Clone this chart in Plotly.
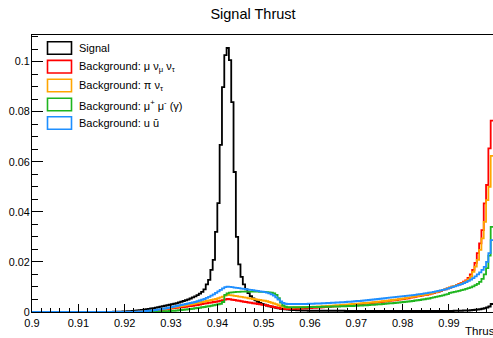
import numpy as np
import plotly.graph_objects as go

# Histogram: 0.9 .. 0.9995 in bins of 0.0005 (visible part)
x_start = 0.9
bin_width = 0.0005

signal = [
    0, 0, 0, 0, 0, 0, 0, 0, 0, 0,
    0, 0, 0, 0, 0, 0, 0, 0, 0, 0,
    0, 0, 0, 0, 0, 0, 0, 0, 0, 0,
    0, 0, 0, 0, 0, 0.0001, 0.0001, 0.0001, 0.0001, 0.0002,
    0.0002, 0.0003, 0.0003, 0.0004, 0.0005, 0.0006, 0.0007, 0.0008, 0.0009, 0.0011,
    0.0012, 0.0014, 0.0015, 0.0017, 0.0019, 0.0021, 0.0023, 0.0025, 0.0027, 0.0029,
    0.0031, 0.0033, 0.0035, 0.0038, 0.0041, 0.0044, 0.0047, 0.0050, 0.0054, 0.0058,
    0.0062, 0.0067, 0.0073, 0.0080, 0.0090, 0.0110, 0.0128, 0.0168, 0.0208, 0.0320,
    0.0435, 0.0667, 0.0898, 0.1026, 0.1054, 0.1006, 0.0838, 0.0559, 0.0300, 0.0190,
    0.0140, 0.0110, 0.0090, 0.0075, 0.0063, 0.0054, 0.0047, 0.0041, 0.0036, 0.0032,
    0.0029, 0.0026, 0.0023, 0.0021, 0.0019, 0.0017, 0.0015, 0.0013, 0.0012, 0.0011,
    0.0010, 0.0009, 0.0008, 0.0008, 0.0007, 0.0007, 0.0006, 0.0006, 0.0006, 0.0005,
    0.0005, 0.0005, 0.0005, 0.0005, 0.0005, 0.0005, 0.0005, 0.0005, 0.0005, 0.0005,
    0.0005, 0.0005, 0.0005, 0.0005, 0.0005, 0.0004, 0.0004, 0.0004, 0.0004, 0.0004,
    0.0004, 0.0004, 0.0004, 0.0004, 0.0004, 0.0004, 0.0004, 0.0004, 0.0004, 0.0004,
    0.0004, 0.0004, 0.0004, 0.0004, 0.0004, 0.0004, 0.0004, 0.0004, 0.0004, 0.0004,
    0.0004, 0.0004, 0.0004, 0.0004, 0.0004, 0.0004, 0.0004, 0.0004, 0.0004, 0.0004,
    0.0004, 0.0004, 0.0004, 0.0004, 0.0004, 0.0004, 0.0004, 0.0004, 0.0004, 0.0004,
    0.0004, 0.0004, 0.0005, 0.0005, 0.0005, 0.0005, 0.0006, 0.0006, 0.0006, 0.0007,
    0.0008, 0.0009, 0.0010, 0.0011, 0.0013, 0.0015, 0.0018, 0.0022, 0.0032,
]

bkg_mununu = [
    0, 0, 0, 0, 0, 0, 0, 0, 0, 0,
    0, 0, 0, 0, 0, 0, 0, 0, 0, 0,
    0, 0, 0, 0, 0, 0, 0, 0, 0, 0,
    0, 0, 0, 0, 0, 0, 0, 0, 0, 0,
    0, 0, 0, 0, 0, 0, 0.0001, 0.0001, 0.0002, 0.0002,
    0.0003, 0.0004, 0.0005, 0.0006, 0.0007, 0.0008, 0.0009, 0.0010, 0.0012, 0.0013,
    0.0015, 0.0016, 0.0017, 0.0018, 0.0019, 0.0020, 0.0021, 0.0023, 0.0024, 0.0025,
    0.0027, 0.0028, 0.0030, 0.0032, 0.0034, 0.0035, 0.0037, 0.0038, 0.0040, 0.0041,
    0.0043, 0.0045, 0.0047, 0.0050, 0.0052, 0.0051, 0.0049, 0.0048, 0.0046, 0.0045,
    0.0043, 0.0041, 0.0040, 0.0038, 0.0037, 0.0035, 0.0034, 0.0032, 0.0031, 0.0029,
    0.0028, 0.0026, 0.0024, 0.0022, 0.0020, 0.0018, 0.0016, 0.0014, 0.0013, 0.0012,
    0.0012, 0.0012, 0.0013, 0.0013, 0.0013, 0.0014, 0.0014, 0.0015, 0.0015, 0.0016,
    0.0016, 0.0017, 0.0017, 0.0018, 0.0018, 0.0019, 0.0020, 0.0021, 0.0021, 0.0022,
    0.0023, 0.0023, 0.0024, 0.0025, 0.0026, 0.0027, 0.0027, 0.0028, 0.0029, 0.0030,
    0.0030, 0.0031, 0.0032, 0.0033, 0.0034, 0.0035, 0.0036, 0.0037, 0.0038, 0.0039,
    0.0040, 0.0041, 0.0042, 0.0043, 0.0045, 0.0046, 0.0047, 0.0048, 0.0050, 0.0051,
    0.0052, 0.0054, 0.0055, 0.0057, 0.0058, 0.0060, 0.0062, 0.0063, 0.0065, 0.0067,
    0.0068, 0.0070, 0.0073, 0.0075, 0.0078, 0.0080, 0.0083, 0.0087, 0.0090, 0.0094,
    0.0097, 0.0101, 0.0104, 0.0108, 0.0112, 0.0116, 0.0121, 0.0126, 0.0136, 0.0150,
    0.0168, 0.0196, 0.0235, 0.0274, 0.0327, 0.0434, 0.0507, 0.0653, 0.0764,
]

bkg_pinu = [
    0, 0, 0, 0, 0, 0, 0, 0, 0, 0,
    0, 0, 0, 0, 0, 0, 0, 0, 0, 0,
    0, 0, 0, 0, 0, 0, 0, 0, 0, 0,
    0, 0, 0, 0, 0, 0, 0, 0, 0, 0,
    0, 0, 0, 0, 0, 0.0001, 0.0001, 0.0002, 0.0002, 0.0003,
    0.0004, 0.0005, 0.0006, 0.0007, 0.0009, 0.0010, 0.0011, 0.0013, 0.0014, 0.0016,
    0.0018, 0.0019, 0.0021, 0.0022, 0.0024, 0.0025, 0.0027, 0.0029, 0.0030, 0.0032,
    0.0034, 0.0036, 0.0038, 0.0040, 0.0042, 0.0044, 0.0046, 0.0048, 0.0050, 0.0052,
    0.0055, 0.0058, 0.0061, 0.0065, 0.0068, 0.0067, 0.0066, 0.0064, 0.0063, 0.0061,
    0.0060, 0.0058, 0.0057, 0.0055, 0.0054, 0.0052, 0.0051, 0.0049, 0.0048, 0.0046,
    0.0045, 0.0043, 0.0040, 0.0037, 0.0034, 0.0031, 0.0027, 0.0024, 0.0021, 0.0019,
    0.0018, 0.0018, 0.0018, 0.0019, 0.0019, 0.0019, 0.0019, 0.0020, 0.0020, 0.0020,
    0.0020, 0.0021, 0.0021, 0.0022, 0.0022, 0.0023, 0.0023, 0.0024, 0.0025, 0.0025,
    0.0026, 0.0027, 0.0027, 0.0028, 0.0029, 0.0029, 0.0030, 0.0031, 0.0032, 0.0032,
    0.0033, 0.0034, 0.0035, 0.0036, 0.0036, 0.0037, 0.0038, 0.0039, 0.0040, 0.0041,
    0.0042, 0.0043, 0.0044, 0.0045, 0.0046, 0.0048, 0.0049, 0.0050, 0.0051, 0.0053,
    0.0054, 0.0055, 0.0057, 0.0058, 0.0060, 0.0062, 0.0063, 0.0065, 0.0067, 0.0068,
    0.0070, 0.0072, 0.0074, 0.0077, 0.0079, 0.0082, 0.0085, 0.0088, 0.0091, 0.0094,
    0.0098, 0.0101, 0.0104, 0.0107, 0.0110, 0.0114, 0.0118, 0.0123, 0.0130, 0.0141,
    0.0160, 0.0181, 0.0208, 0.0248, 0.0294, 0.0360, 0.0447, 0.0500, 0.0623,
]

bkg_mumu = [
    0, 0, 0, 0, 0, 0, 0, 0, 0, 0,
    0, 0, 0, 0, 0, 0, 0, 0, 0, 0,
    0, 0, 0, 0, 0, 0, 0, 0, 0, 0,
    0, 0, 0, 0, 0, 0, 0, 0, 0, 0,
    0, 0, 0, 0, 0, 0, 0, 0, 0, 0,
    0, 0, 0, 0.0001, 0.0001, 0.0002, 0.0002, 0.0003, 0.0003, 0.0004,
    0.0005, 0.0005, 0.0006, 0.0007, 0.0008, 0.0009, 0.0010, 0.0011, 0.0012, 0.0013,
    0.0015, 0.0016, 0.0017, 0.0019, 0.0020, 0.0022, 0.0023, 0.0025, 0.0027, 0.0029,
    0.0031, 0.0033, 0.0040, 0.0068, 0.0074, 0.0077, 0.0078, 0.0079, 0.0080, 0.0080,
    0.0081, 0.0081, 0.0081, 0.0081, 0.0081, 0.0081, 0.0081, 0.0081, 0.0080, 0.0080,
    0.0080, 0.0079, 0.0078, 0.0077, 0.0074, 0.0068, 0.0055, 0.0038, 0.0026, 0.0021,
    0.0019, 0.0019, 0.0019, 0.0019, 0.0019, 0.0019, 0.0019, 0.0019, 0.0019, 0.0020,
    0.0020, 0.0020, 0.0020, 0.0020, 0.0020, 0.0021, 0.0021, 0.0021, 0.0021, 0.0022,
    0.0022, 0.0022, 0.0022, 0.0023, 0.0023, 0.0023, 0.0024, 0.0024, 0.0024, 0.0025,
    0.0025, 0.0026, 0.0026, 0.0027, 0.0027, 0.0028, 0.0029, 0.0029, 0.0030, 0.0031,
    0.0031, 0.0032, 0.0033, 0.0034, 0.0035, 0.0035, 0.0036, 0.0037, 0.0038, 0.0039,
    0.0040, 0.0041, 0.0042, 0.0043, 0.0044, 0.0046, 0.0047, 0.0048, 0.0050, 0.0051,
    0.0053, 0.0054, 0.0056, 0.0058, 0.0060, 0.0062, 0.0064, 0.0066, 0.0069, 0.0071,
    0.0076, 0.0078, 0.0080, 0.0082, 0.0084, 0.0087, 0.0089, 0.0092, 0.0095, 0.0098,
    0.0102, 0.0107, 0.0112, 0.0120, 0.0132, 0.0150, 0.0175, 0.0225, 0.0340,
]

bkg_uu = [
    0, 0, 0, 0, 0, 0, 0, 0, 0, 0,
    0, 0, 0, 0, 0, 0, 0, 0, 0, 0,
    0, 0, 0, 0, 0, 0, 0, 0, 0, 0,
    0, 0, 0, 0, 0, 0, 0, 0, 0, 0,
    0, 0, 0, 0, 0.0001, 0.0001, 0.0002, 0.0002, 0.0003, 0.0004,
    0.0005, 0.0006, 0.0007, 0.0008, 0.0010, 0.0011, 0.0013, 0.0014, 0.0016, 0.0018,
    0.0020, 0.0022, 0.0024, 0.0026, 0.0028, 0.0030, 0.0032, 0.0034, 0.0036, 0.0038,
    0.0040, 0.0043, 0.0046, 0.0049, 0.0052, 0.0056, 0.0060, 0.0065, 0.0070, 0.0076,
    0.0082, 0.0088, 0.0094, 0.0099, 0.0101, 0.0100, 0.0099, 0.0097, 0.0096, 0.0095,
    0.0093, 0.0092, 0.0091, 0.0089, 0.0088, 0.0087, 0.0085, 0.0084, 0.0082, 0.0081,
    0.0079, 0.0077, 0.0074, 0.0070, 0.0065, 0.0058, 0.0050, 0.0042, 0.0036, 0.0033,
    0.0032, 0.0032, 0.0032, 0.0032, 0.0032, 0.0032, 0.0032, 0.0032, 0.0032, 0.0033,
    0.0033, 0.0033, 0.0034, 0.0034, 0.0034, 0.0035, 0.0035, 0.0036, 0.0036, 0.0037,
    0.0037, 0.0038, 0.0038, 0.0039, 0.0039, 0.0040, 0.0041, 0.0041, 0.0042, 0.0043,
    0.0044, 0.0044, 0.0045, 0.0046, 0.0047, 0.0048, 0.0049, 0.0050, 0.0051, 0.0052,
    0.0053, 0.0054, 0.0055, 0.0056, 0.0057, 0.0058, 0.0059, 0.0060, 0.0061, 0.0062,
    0.0063, 0.0064, 0.0065, 0.0066, 0.0067, 0.0068, 0.0070, 0.0071, 0.0072, 0.0074,
    0.0075, 0.0077, 0.0078, 0.0080, 0.0082, 0.0084, 0.0086, 0.0088, 0.0090, 0.0093,
    0.0096, 0.0099, 0.0102, 0.0105, 0.0108, 0.0111, 0.0115, 0.0119, 0.0124, 0.0129,
    0.0135, 0.0142, 0.0150, 0.0158, 0.0168, 0.0180, 0.0200, 0.0235, 0.0287,
]

names = [
    "Signal",
    "Background: μ ν<sub>μ</sub> ν<sub>τ</sub>",
    "Background: π ν<sub>τ</sub>",
    "Background: μ<sup>+</sup> μ<sup>-</sup> (γ)",
    "Background: u ū",
]
series = [signal, bkg_mununu, bkg_pinu, bkg_mumu, bkg_uu]
colors = ["#000000", "#ff0000", "#ffa500", "#1fb51f", "#1f8fff"]

n = len(signal)
for s in series:
    assert len(s) == n, len(s)
edges = np.round(x_start + bin_width * np.arange(n + 1), 6)

fig = go.Figure()
for s, c in zip(series, colors):
    fig.add_trace(go.Scatter(
        x=edges, y=list(s) + [s[-1]], mode="lines",
        line=dict(color=c, width=1.8, shape="hv"),
        showlegend=False, hoverinfo="skip",
    ))

W, H = 493, 338
L, R, T, B = 32, 0, 35, 338 - 312
pw, ph = W - L - R, H - T - B
FONT = "Liberation Sans, Arial, Helvetica, sans-serif"


def px_x(p):
    return (p - L) / pw


def px_y(p):
    return (H - B - p) / ph


shapes = []
annotations = []
legend_centers = [48, 66.7, 85.5, 104.5, 123]
for yc, c, name in zip(legend_centers, colors, names):
    shapes.append(dict(type="rect", xref="paper", yref="paper",
                       x0=px_x(47.5), x1=px_x(71.5),
                       y0=px_y(yc + 6.3), y1=px_y(yc - 6.3),
                       line=dict(color=c, width=1.6), fillcolor="rgba(0,0,0,0)"))
    annotations.append(dict(text=name, xref="paper", yref="paper",
                            x=px_x(76.5), y=px_y(yc), xanchor="left", yanchor="middle",
                            showarrow=False,
                            font=dict(family=FONT, size=11, color="#000")))

annotations.append(dict(text="Thrust", xref="paper", yref="paper",
                        x=px_x(462.5), y=px_y(330.5), xanchor="left", yanchor="middle",
                        showarrow=False,
                        font=dict(family=FONT, size=11.5, color="#000")))

fig.update_layout(
    width=W, height=H,
    margin=dict(l=L, r=R, t=T, b=B, pad=0, autoexpand=False),
    paper_bgcolor="white", plot_bgcolor="white",
    font=dict(family=FONT, size=11, color="#000"),
    title=dict(text="Signal Thrust", x=253 / W, xanchor="center",
               y=1 - 14 / H, yanchor="middle", xref="container", yref="container",
               font=dict(family=FONT, size=14.5, color="#000")),
    shapes=shapes, annotations=annotations,
    xaxis=dict(range=[0.9, 0.9995], dtick=0.01, tick0=0.9, showgrid=False, zeroline=False,
               automargin=False,
               showline=True, linecolor="#000", linewidth=1, mirror=True,
               ticks="inside", ticklen=8, tickwidth=1, tickcolor="#000",
               minor=dict(dtick=0.002, ticks="inside", ticklen=4, tickcolor="#000", showgrid=False),
               tickfont=dict(family=FONT, size=11), ticklabelstandoff=1),
    yaxis=dict(range=[0, 0.1106], dtick=0.02, tick0=0, showgrid=False, zeroline=False,
               automargin=False,
               showline=True, linecolor="#000", linewidth=1,
               ticks="inside", ticklen=11, tickwidth=1, tickcolor="#000",
               minor=dict(dtick=0.005, ticks="inside", ticklen=6, tickcolor="#000", showgrid=False),
               tickfont=dict(family=FONT, size=10.8), ticklabelstandoff=-1),
)

fig.write_html(
    "out.html",
    config={"displayModeBar": False, "staticPlot": True},
    post_script="document.body.style.margin='0';document.documentElement.style.overflow='hidden';",
)
